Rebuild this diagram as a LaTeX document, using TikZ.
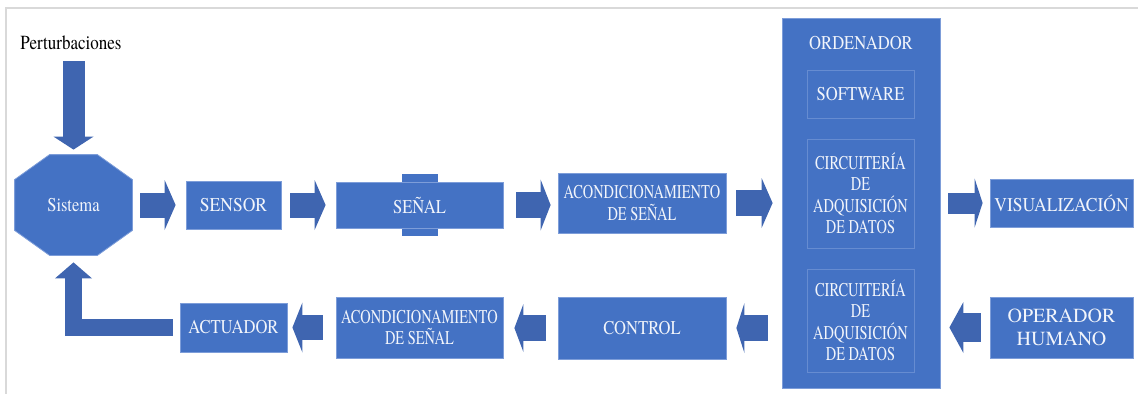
\documentclass[tikz,border=0pt]{standalone}
\usepackage{fontspec}
\setmainfont{texgyretermes-regular.otf}[FakeStretch=0.85]
\newfontfamily\narrowfont{texgyretermes-regular.otf}[FakeStretch=0.74]
\newfontfamily\widefont{texgyretermes-regular.otf}[FakeStretch=0.9]
\newfontfamily\plainfont{texgyretermes-regular.otf}
\usetikzlibrary{arrows.meta, positioning, backgrounds}

\definecolor{boxblue}{HTML}{4472C4}
\definecolor{arrowblue}{HTML}{3F65B0}
\definecolor{edgeblue}{HTML}{7D9DD9}
\definecolor{framegray}{HTML}{D9D9D9}
\definecolor{txtwhite}{HTML}{F2F5FB}

\begin{document}
\begin{tikzpicture}[
    x=1pt, y=-1pt,
    block/.style={fill=boxblue, draw=edgeblue, line width=0.8pt, text=txtwhite,
                  align=center, inner sep=0pt, font=\fontsize{19.5}{22}\selectfont},
    subblock/.style={block, draw=edgeblue!60!boxblue},
    narrow/.style={font=\narrowfont\fontsize{19.5}{21.5}\selectfont},
    wide/.style={font=\widefont\fontsize{19.5}{22}\selectfont},
    fat/.style n args={3}{draw=arrowblue, line width=#1, line join=miter,
                  -{Triangle[width=#2, length=#3, line width=0pt]}}
]
\useasboundingbox (0,0) rectangle (1138,394);

% frame
\draw[framegray, line width=2pt] (1138,8) -- (6,8) -- (6,394);

% ---- TOP ROW ----
\node[block, draw=none, fill=none, minimum width=117pt, minimum height=100pt]
      (sistema) at (73.5,205) {Sistema};
\node[inner sep=0pt, font=\fontsize{20}{22}\selectfont] (perturb) at (71,43) {Perturbaciones};
\node[block, wide, minimum width=95pt,  minimum height=48pt] (sensor) at (233.5,205) {SENSOR};
\node[block, minimum width=167pt, minimum height=46pt] (senal)  at (419.5,205) {SEÑAL};
\node[block, narrow, minimum width=168pt, minimum height=60pt] (acond) at (642,203)
      {ACONDICIONAMIENTO\\DE SEÑAL};

% ---- ORDENADOR ----
\node[block, minimum width=158pt, minimum height=370pt] (ord) at (861,203) {};
\node[text=txtwhite, inner sep=0pt, font=\fontsize{19.5}{22}\selectfont] (ordlbl) at (861,43) {ORDENADOR};
\node[subblock, minimum width=107pt, minimum height=48pt]  (soft)  at (860.5,94) {SOFTWARE};
\node[subblock, narrow, minimum width=107pt, minimum height=109pt] (circa) at (860.5,193.5)
      {CIRCUITERÍA\\DE\\ADQUISICIÓN\\DE DATOS};
\node[subblock, narrow, minimum width=107pt, minimum height=103pt] (circb) at (860.5,320.5)
      {CIRCUITERÍA\\DE\\ADQUISICIÓN\\DE DATOS};

\node[block, wide, minimum width=143pt, minimum height=48pt] (vis)  at (1061.5,203) {VISUALIZACIÓN};
\node[block, minimum width=143pt, minimum height=61pt,
      font=\plainfont\fontsize{20}{23}\selectfont] (oper) at (1061.5,327.5) {OPERADOR\\HUMANO};

% ---- BOTTOM ROW ----
\node[block, minimum width=168pt, minimum height=62pt] (control)  at (642,328)   {CONTROL};
\node[block, narrow, minimum width=167pt, minimum height=61pt] (acondb) at (419.5,327.5)
      {ACONDICIONAMIENTO\\DE SEÑAL};
\node[block, minimum width=107pt, minimum height=49pt] (actuador) at (233.5,327.5) {ACTUADOR};

% octagon and cross tab
\begin{pgfonlayer}{background}
    \filldraw[fill=boxblue, draw=edgeblue, line width=0.8pt]
        ([xshift=35pt]sistema.north west) -- ([xshift=-35pt]sistema.north east)
        -- ([yshift=-25pt]sistema.north east) -- ([yshift=25pt]sistema.south east)
        -- ([xshift=-35pt]sistema.south east) -- ([xshift=35pt]sistema.south west)
        -- ([yshift=25pt]sistema.south west) -- ([yshift=-25pt]sistema.north west) -- cycle;
    \fill[boxblue] ([xshift=-18pt, yshift=8pt]senal.north) rectangle ([xshift=18pt, yshift=-8pt]senal.south);
\end{pgfonlayer}

% ---- block arrows ----
\draw[fat={22pt}{40pt}{13pt}, shorten <=11pt, shorten >=5pt]
    (sistema.north |- perturb.south) -- (sistema.north);
\draw[fat={25pt}{50pt}{11pt}, shorten <=8pt, shorten >=10pt]
    (sistema.east) -- (sistema.east -| sensor.west);
\draw[fat={25pt}{50pt}{11pt}, shorten <=9pt, shorten >=10pt]
    (sensor.east) -- (sensor.east -| senal.west);
\draw[fat={26pt}{51pt}{10pt}, shorten <=13pt, shorten >=7pt]
    (senal.east) -- (senal.east -| acond.west);
\draw[fat={26pt}{50pt}{11pt}, shorten <=10pt, shorten >=9pt]
    (acond.east) -- (acond.east -| ord.west);
\draw[fat={21pt}{49pt}{8pt}, shorten <=8pt, shorten >=7pt]
    (vis.west -| ord.east) -- (vis.west);

\draw[fat={29pt}{51pt}{14pt}, shorten <=9pt, shorten >=9pt]
    (oper.west) -- (oper.west -| ord.east);
\draw[fat={26pt}{50pt}{8pt}, shorten <=14pt, shorten >=10pt]
    (control.east -| ord.west) -- (control.east);
\draw[fat={26pt}{48pt}{9pt}, shorten <=12pt, shorten >=11pt]
    (control.west) -- (control.west -| acondb.east);
\draw[fat={25pt}{50pt}{10pt}, shorten <=13pt, shorten >=5pt]
    (acondb.west) -- (acondb.west -| actuador.east);

% feedback to Sistema
\draw[fat={17pt}{37pt}{16pt}, shorten <=7pt, shorten >=7pt]
    (actuador.west) -- (actuador.west -| sistema.south) -- (sistema.south);

\end{tikzpicture}
\end{document}
